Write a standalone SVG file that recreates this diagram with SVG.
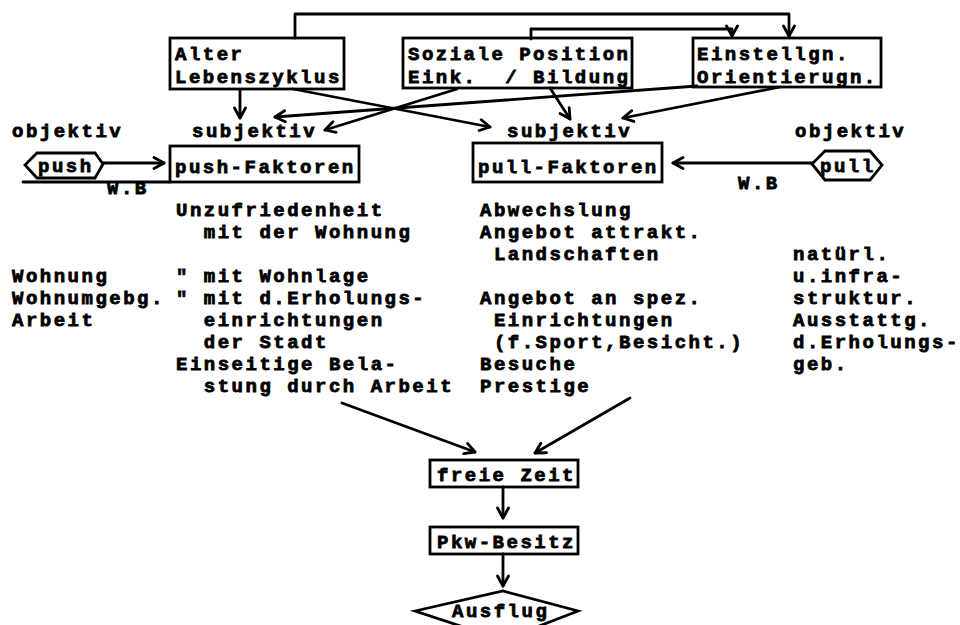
<svg xmlns="http://www.w3.org/2000/svg" width="960" height="625" viewBox="0 0 960 625">
<style>
text{font-family:"Liberation Mono","DejaVu Sans Mono",monospace;font-weight:bold;font-size:19px;letter-spacing:2.5px;fill:#000;stroke:#000;stroke-width:0.8px;white-space:pre}
.box{fill:none;stroke:#000;stroke-width:2.8}
.ln{fill:none;stroke:#000;stroke-width:2.8;stroke-linecap:round;stroke-linejoin:round}
.arr{marker-end:url(#ah)}
</style>
<defs>
<marker id="ah" viewBox="0 0 14 14" markerUnits="userSpaceOnUse" markerWidth="14" markerHeight="14" refX="12" refY="7" orient="auto">
<path d="M2,1.5 L12,7 L2,12.5" fill="none" stroke="#000" stroke-width="2.8" stroke-linecap="round" stroke-linejoin="round"/>
</marker>
</defs>
<rect width="960" height="625" fill="#fff"/>

<g id="connectors">
<polyline class="ln arr" points="295,38 295,14 789,14 789,36"/>
<polyline class="ln arr" points="531,39 531,29 732,29 732,36"/>
<line class="ln arr" x1="240" y1="90" x2="240" y2="118"/>
<line class="ln arr" x1="293" y1="89" x2="490" y2="127"/>
<line class="ln arr" x1="457" y1="89" x2="325" y2="130"/>
<line class="ln arr" x1="550" y1="88" x2="570" y2="119"/>
<line class="ln arr" x1="697" y1="86" x2="275" y2="117"/>
<line class="ln arr" x1="780" y1="87" x2="623" y2="118"/>
<line class="ln arr" x1="103" y1="163" x2="164" y2="163"/>
<line class="ln arr" x1="812" y1="163" x2="673" y2="163"/>
<line class="ln arr" x1="342" y1="403" x2="475" y2="452"/>
<line class="ln arr" x1="630" y1="398" x2="535" y2="453"/>
<line class="ln arr" x1="503" y1="487" x2="503" y2="518"/>
<line class="ln arr" x1="503" y1="554" x2="503" y2="586"/>
</g>

<g id="alter">
<rect class="box" x="170" y="38" width="174" height="51"/>
<text x="175" y="60">Alter</text>
<text x="175" y="83">Lebenszyklus</text>
</g>
<g id="soziale">
<rect class="box" x="403" y="38" width="229" height="50"/>
<text x="408" y="60">Soziale Position</text>
<text x="408" y="83">Eink.  / Bildung</text>
</g>
<g id="einstellungen">
<rect class="box" x="693" y="38" width="188" height="49"/>
<text x="697" y="60">Einstellgn.</text>
<text x="697" y="83">Orientierugn.</text>
</g>

<g id="objektiv-left"><text x="12" y="137">objektiv</text></g>
<g id="subjektiv-push"><text x="192" y="137">subjektiv</text></g>
<g id="subjektiv-pull"><text x="507" y="137">subjektiv</text></g>
<g id="objektiv-right"><text x="795" y="137">objektiv</text></g>

<g id="push">
<polygon class="box" points="37,153 95,153 103,164 95,178 37,178 25,165"/>
<text x="38" y="172">push</text>
<line class="ln" x1="23" y1="182" x2="170" y2="182"/>
<text x="107" y="194">W.B</text>
</g>
<g id="push-faktoren">
<rect class="box" x="170" y="146" width="189" height="36"/>
<text x="175" y="173">push-Faktoren</text>
</g>
<g id="pull-faktoren">
<rect class="box" x="473" y="143" width="189" height="39"/>
<text x="478" y="173">pull-Faktoren</text>
</g>
<g id="pull">
<polygon class="box" points="825,151 870,151 882,165 870,180 825,180 812,164"/>
<text x="820" y="172">pull</text>
<text x="738" y="189">W.B</text>
</g>

<g id="push-list">
<text x="176" y="216">Unzufriedenheit</text>
<text x="176" y="238">  mit der Wohnung</text>
<text x="176" y="282">" mit Wohnlage</text>
<text x="176" y="304">" mit d.Erholungs-</text>
<text x="176" y="326">  einrichtungen</text>
<text x="176" y="348">  der Stadt</text>
<text x="176" y="370">Einseitige Bela-</text>
<text x="176" y="392">  stung durch Arbeit</text>
</g>
<g id="push-objektiv-list">
<text x="12" y="282">Wohnung</text>
<text x="12" y="304">Wohnumgebg.</text>
<text x="12" y="326">Arbeit</text>
</g>
<g id="pull-list">
<text x="480" y="216">Abwechslung</text>
<text x="480" y="238">Angebot attrakt.</text>
<text x="480" y="260"> Landschaften</text>
<text x="480" y="304">Angebot an spez.</text>
<text x="480" y="326"> Einrichtungen</text>
<text x="480" y="348"> (f.Sport,Besicht.)</text>
<text x="480" y="370">Besuche</text>
<text x="480" y="392">Prestige</text>
</g>
<g id="pull-objektiv-list">
<text x="793" y="260">natürl.</text>
<text x="793" y="282">u.infra-</text>
<text x="793" y="304">struktur.</text>
<text x="793" y="326">Ausstattg.</text>
<text x="793" y="348">d.Erholungs-</text>
<text x="793" y="370">geb.</text>
</g>

<g id="freie-zeit">
<rect class="box" x="430" y="460" width="148" height="27"/>
<text x="437" y="481">freie Zeit</text>
</g>
<g id="pkw-besitz">
<rect class="box" x="430" y="527" width="148" height="27"/>
<text x="437" y="548">Pkw-Besitz</text>
</g>
<g id="ausflug">
<polygon class="box" points="415,611 503,591 578,611 503,640"/>
<text x="452" y="617">Ausflug</text>
</g>
</svg>
